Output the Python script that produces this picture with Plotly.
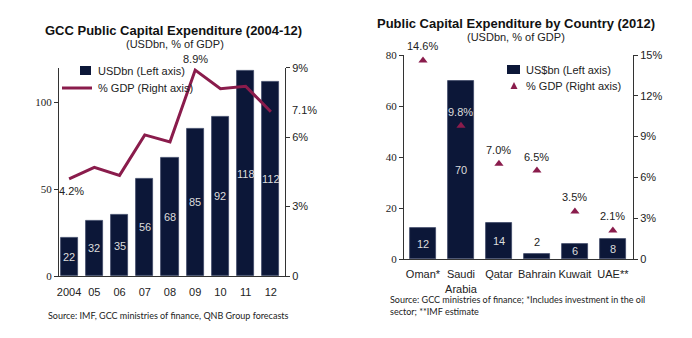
import plotly.graph_objects as go

# Left panel: GCC public capital expenditure 2004-12
years = ["2004", "05", "06", "07", "08", "09", "10", "11", "12"]
capex_usdbn = [22, 32, 35, 56, 68, 85, 92, 118, 112]
capex_pct_gdp = [4.2, 4.7, 4.35, 6.1, 5.8, 8.9, 8.1, 8.2, 7.1]

# Right panel: public capital expenditure by country (2012)
countries = ["Oman*", "Saudi<br>Arabia", "Qatar", "Bahrain", "Kuwait", "UAE**"]
country_usdbn = [12, 70, 14, 2, 6, 8]
country_pct_gdp = [14.6, 9.8, 7.0, 6.5, 3.5, 2.1]

NAVY = "#0c1738"
MAROON = "#8a1c4c"
AXIS = "#333333"
SANS = "Liberation Sans, Arimo, sans-serif"
SERIF = "Liberation Serif, Tinos, serif"
NOTE = "Lato, sans-serif"

W, H = 692, 338


def px(x):
    return x / W


def py(y):
    return 1 - y / H


fig = go.Figure()

# category positions by index
yr_idx = list(range(len(years)))
ct_idx = list(range(len(countries)))

# ---- left panel traces
fig.add_trace(go.Bar(x=yr_idx, y=capex_usdbn, marker=dict(color=NAVY, line=dict(color="#3c4666", width=0.8)),
                     width=0.68, xaxis="x", yaxis="y", showlegend=False, hoverinfo="skip"))
fig.add_trace(go.Scatter(x=yr_idx, y=capex_pct_gdp, mode="lines", line=dict(color=MAROON, width=3),
                         xaxis="x", yaxis="y2", showlegend=False, hoverinfo="skip"))

# ---- right panel traces
fig.add_trace(go.Bar(x=ct_idx, y=country_usdbn, marker=dict(color=NAVY, line=dict(color="#3c4666", width=0.8)),
                     width=0.68, xaxis="x3", yaxis="y3", showlegend=False, hoverinfo="skip"))
fig.add_trace(go.Scatter(x=ct_idx, y=country_pct_gdp, mode="markers",
                         marker=dict(symbol="triangle-up", size=8, color=MAROON),
                         xaxis="x3", yaxis="y4", showlegend=False, hoverinfo="skip"))

annotations = []
tick_font = dict(family=SANS, size=11, color="#222")
serif_font = dict(family=SERIF, size=11, color="#222")
LIGHT = "#dcdcdc"


def note(**kw):
    kw.setdefault("showarrow", False)
    kw.setdefault("xanchor", "center")
    kw.setdefault("yanchor", "middle")
    annotations.append(kw)


# bar value labels (centred in each bar; short bars get the label above)
for i, v in enumerate(capex_usdbn):
    note(x=i, y=v / 2, xref="x", yref="y", text=str(v), font=dict(family=SANS, size=11, color=LIGHT))
for i, v in enumerate(country_usdbn):
    if v < 4:
        note(x=i, y=v, xref="x3", yref="y3", text=str(v), yanchor="bottom", yshift=4,
             font=dict(family=SANS, size=11, color="#222"))
    else:
        note(x=i, y=v / 2, xref="x3", yref="y3", text=str(v), font=dict(family=SANS, size=11, color=LIGHT))

# % of GDP labels
note(x=0, y=capex_pct_gdp[0], xref="x", yref="y2", text=f"{capex_pct_gdp[0]:.1f}%",
     yanchor="top", yshift=-4, xshift=2, font=tick_font)
note(x=5, y=capex_pct_gdp[5], xref="x", yref="y2", text=f"{capex_pct_gdp[5]:.1f}%",
     yanchor="bottom", yshift=3, font=tick_font)
note(x=px(290), y=capex_pct_gdp[-1], xref="paper", yref="y2", text=f"{capex_pct_gdp[-1]:.1f}%",
     xanchor="left", yshift=2, font=tick_font)
for i, v in enumerate(country_pct_gdp):
    col = LIGHT if country_usdbn[i] * 15 / 80 > v else "#222"
    note(x=i, y=v, xref="x3", yref="y4", text=f"{v:.1f}%", yanchor="bottom", yshift=6,
         font=dict(family=SANS, size=11, color=col))

# titles
note(x=px(173), y=py(30), xref="paper", yref="paper", text="<b>GCC Public Capital Expenditure (2004-12)</b>",
     font=dict(family=SANS, size=13, color="#111"))
note(x=px(175), y=py(44), xref="paper", yref="paper", text="(USDbn, % of GDP)",
     font=dict(family=SANS, size=11, color="#222"))
note(x=px(516), y=py(23), xref="paper", yref="paper", text="<b>Public Capital Expenditure by Country (2012)</b>",
     font=dict(family=SANS, size=13, color="#111"))
note(x=px(516), y=py(37), xref="paper", yref="paper", text="(USDbn, % of GDP)",
     font=dict(family=SANS, size=11, color="#222"))

# legends
note(x=px(96), y=py(71), xref="paper", yref="paper", text="USDbn (Left axis)", xanchor="left",
     font=dict(family=SANS, size=11, color="#222"))
note(x=px(96), y=py(88), xref="paper", yref="paper", text="% GDP (Right axis)", xanchor="left",
     font=dict(family=SANS, size=11, color="#222"))
note(x=px(524), y=py(70), xref="paper", yref="paper", text="US$bn (Left axis)", xanchor="left",
     font=dict(family=SANS, size=11, color="#222"))
note(x=px(524), y=py(86), xref="paper", yref="paper", text="% GDP (Right axis)", xanchor="left",
     font=dict(family=SANS, size=11, color="#222"))

# sources
note(x=px(168), y=py(315), xref="paper", yref="paper",
     text="Source: IMF, GCC ministries of finance, QNB Group forecasts",
     font=dict(family=NOTE, size=9, color="#222"))
note(x=px(388), y=py(299), xref="paper", yref="paper", xanchor="left",
     text="Source: GCC ministries of finance; *Includes investment in the oil",
     font=dict(family=NOTE, size=9, color="#222"))
note(x=px(388), y=py(311), xref="paper", yref="paper", xanchor="left",
     text="sector; **IMF estimate",
     font=dict(family=NOTE, size=9, color="#222"))

shapes = [
    dict(type="rect", xref="paper", yref="paper", x0=px(80), x1=px(91), y0=py(75), y1=py(66),
         fillcolor=NAVY, line=dict(width=0)),
    dict(type="line", xref="paper", yref="paper", x0=px(62), x1=px(92), y0=py(88), y1=py(88),
         line=dict(color=MAROON, width=3)),
    dict(type="rect", xref="paper", yref="paper", x0=px(507), x1=px(520), y0=py(74), y1=py(65),
         fillcolor=NAVY, line=dict(width=0)),
    dict(type="path", xref="paper", yref="paper",
         path=f"M {px(510.5)} {py(89)} L {px(517.5)} {py(89)} L {px(514)} {py(82)} Z",
         fillcolor=MAROON, line=dict(width=0)),
]

axis_common = dict(showgrid=False, zeroline=False, showline=True, linecolor=AXIS, linewidth=1,
                   automargin=False, fixedrange=True)

fig.update_layout(
    template="none",
    width=W, height=H, margin=dict(l=0, r=0, t=0, b=0, pad=0),
    paper_bgcolor="white", plot_bgcolor="white",
    font=dict(family=SANS, size=11, color="#222"),
    bargap=0, barmode="overlay",
    annotations=annotations, shapes=shapes,
    xaxis=dict(domain=[px(59), px(285)], range=[-0.4, 8.56], anchor="y", ticks="",
               tickmode="array", tickvals=yr_idx, ticktext=years, ticklabelstandoff=6,
               tickfont=tick_font, **axis_common),
    yaxis=dict(domain=[py(276), py(67.8)], range=[0, 120], anchor="x", tickmode="array", tickvals=[0, 50, 100],
               ticks="outside", ticklen=4, tickcolor=AXIS, tickfont=serif_font, **axis_common),
    yaxis2=dict(overlaying="y", side="right", anchor="x", range=[0, 9], tickmode="array", tickvals=[0, 3, 6, 9],
                ticktext=["0", "3%", "6%", "9%"], ticks="outside", ticklen=4, tickcolor=AXIS,
                tickfont=tick_font, **axis_common),
    xaxis3=dict(domain=[px(404), px(633)], range=[-0.5, 5.53], anchor="y3", ticks="",
                tickmode="array", tickvals=ct_idx, ticktext=countries, ticklabelstandoff=5,
                tickfont=tick_font, **axis_common),
    yaxis3=dict(domain=[py(259), py(55)], range=[0, 80], anchor="x3", tickmode="array",
                tickvals=[0, 20, 40, 60, 80],
                ticks="outside", ticklen=4, tickcolor=AXIS, tickfont=serif_font, **axis_common),
    yaxis4=dict(overlaying="y3", side="right", anchor="x3", range=[0, 15], tickmode="array",
                tickvals=[0, 3, 6, 9, 12, 15],
                ticktext=["0", "3%", "6%", "9%", "12%", "15%"], ticks="outside", ticklen=4, tickcolor=AXIS,
                tickfont=tick_font, **axis_common),
)

fig.write_html("out.html")
